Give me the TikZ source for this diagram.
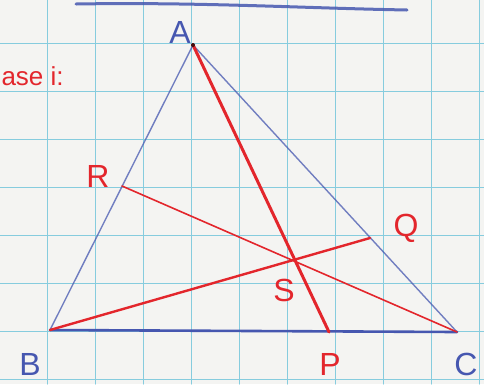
\documentclass[tikz,border=0pt]{standalone}
\usepackage{fontspec}
\setmainfont{Liberation Sans}
\definecolor{papel}{HTML}{F4F4F2}
\definecolor{cuadro}{HTML}{86CCDE}
\definecolor{tinta}{HTML}{4657B0}
\definecolor{rojo}{HTML}{E3262C}

\begin{document}
\begin{tikzpicture}[x=1pt, y=-1pt, line cap=round, font=\fontsize{32}{32}\selectfont]
				\useasboundingbox (0,0) rectangle (484,384);
				\fill[papel] (0,0) rectangle (484,384);
				\foreach \x in {47,95,...,479} \draw[cuadro, line width=1pt] (\x,0) -- (\x,384);
				\foreach \y in {43,91,...,379} \draw[cuadro, line width=1pt] (0,\y) -- (484,\y);
				% puntos
				\coordinate (A) at (193,45);
				\coordinate (B) at (50,330);
				\coordinate (C) at (457,332);
				\coordinate (P) at (329,332);
				\coordinate (Q) at (370,238);
				\coordinate (R) at (122,186);
				\coordinate (ini) at (76,4);
				\coordinate (fin) at (407,10);
				\draw[tinta, line width=3pt, opacity=0.85] (ini) .. controls (200,2) and (300,8) .. (fin);
				% triangulo
				\draw[tinta, line width=1.4pt, opacity=0.75] (B) -- (A) -- (C);
				\draw[tinta, line width=2.6pt] (B) -- (C);
				% cevianas
				\draw[rojo, line width=3pt] (A) -- (P);
				\draw[rojo, line width=2.4pt] (B) -- (Q);
				\draw[rojo, line width=1.6pt] (C) -- (R);
				\fill[black!70!rojo] (A) circle (2pt);
				% rotulos
				\foreach \n/\t/\p in {lA/A/{180,32}, lB/B/{30,364}, lC/C/{466,364}} \node[text=tinta] (\n) at (\p) {\t};
				\foreach \n/\t/\p in {lP/P/{330,364}, lQ/Q/{406,228}, lR/R/{98,176}, lS/S/{284,290}} \node[text=rojo] (\n) at (\p) {\t};
				\node[text=rojo, anchor=west, font=\fontsize{26}{26}\selectfont] (caso) at (-2,76) {ase i:};
			\end{tikzpicture}
\end{document}
